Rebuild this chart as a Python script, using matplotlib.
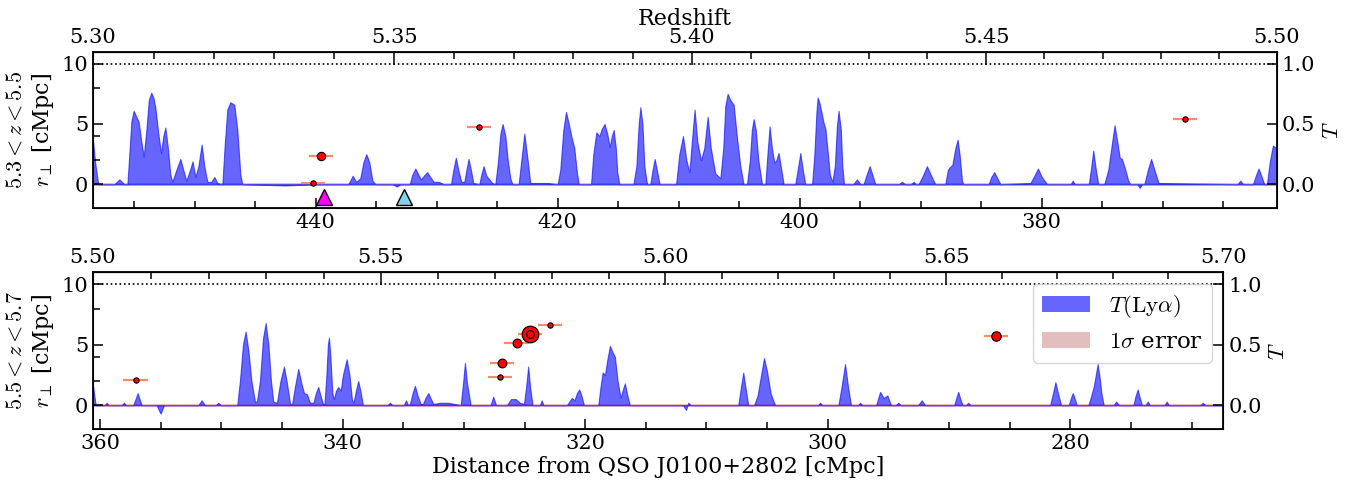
import numpy as np
import matplotlib
matplotlib.use('Agg')
import matplotlib.pyplot as plt
from matplotlib.ticker import MultipleLocator, FixedLocator, FormatStrFormatter
from matplotlib.patches import Patch

plt.rcParams['font.family'] = 'serif'
plt.rcParams['font.serif'] = ['DejaVu Serif']
plt.rcParams['mathtext.fontset'] = 'cm'
plt.rcParams['font.size'] = 15

# redshift <-> distance calibration
z_anchor = [5.3, 5.5, 5.7]
d_anchor = [458.4, 360.57, 267.4]

# transmission spectrum, (distance [cMpc], T)
spec_top = [
    (458.8, 0.42), (458.39, 0.35), (458.22, 0.18), (457.97, 0.0), (456.64, 0.0), (456.22, 0.04),
    (455.81, 0.0), (455.56, 0.0), (455.40, 0.25), (455.23, 0.52), (455.04, 0.61), (454.82, 0.56),
    (454.63, 0.52), (454.40, 0.35), (454.21, 0.23), (453.99, 0.45), (453.79, 0.70), (453.58, 0.76),
    (453.41, 0.72), (453.25, 0.64), (453.00, 0.42), (452.78, 0.26), (452.59, 0.40), (452.42, 0.47),
    (452.21, 0.30), (452.01, 0.08), (451.84, 0.02), (451.51, 0.12), (451.18, 0.21), (450.94, 0.12),
    (450.69, 0.03), (450.44, 0.10), (450.17, 0.19), (449.94, 0.06), (449.69, 0.15), (449.42, 0.33),
    (449.20, 0.15), (448.95, 0.02), (448.62, 0.02), (448.37, 0.06), (448.12, 0.01), (447.71, 0.0),
    (447.50, 0.35), (447.30, 0.62), (447.05, 0.68), (446.72, 0.66), (446.47, 0.45), (446.22, 0.08),
    (446.06, 0.0), (442.5, -0.01), (440.0, 0.0), (437.30, 0.0), (436.94, 0.07), (436.64, 0.02),
    (436.31, 0.05), (436.06, 0.18), (435.81, 0.25), (435.56, 0.18), (435.31, 0.03), (435.07, 0.0),
    (433.6, 0.0), (433.3, -0.02), (433.0, 0.0), (432.23, 0.0), (432.01, 0.08), (431.76, 0.13),
    (431.51, 0.08), (431.29, 0.04), (431.06, 0.07), (430.79, 0.10), (430.52, 0.06), (430.25, 0.02),
    (429.83, 0.02), (429.42, 0.0), (428.81, 0.0), (428.62, 0.12), (428.41, 0.22), (428.21, 0.12),
    (427.96, 0.02), (427.71, 0.02), (427.54, 0.12), (427.36, 0.21), (427.13, 0.10), (426.97, 0.01),
    (426.47, 0.0), (426.31, 0.08), (426.12, 0.15), (425.89, 0.07), (425.64, 0.04), (425.40, 0.01),
    (425.15, 0.0), (424.94, 0.18), (424.73, 0.42), (424.55, 0.50), (424.32, 0.40), (424.12, 0.20),
    (423.91, 0.05), (423.74, 0.0), (423.22, 0.0), (423.00, 0.20), (422.75, 0.42), (422.50, 0.22),
    (422.26, 0.01), (421.5, 0.01), (420.8, 0.01), (420.0, 0.0), (419.78, 0.12), (419.53, 0.45),
    (419.31, 0.60), (419.12, 0.52), (418.87, 0.40), (418.62, 0.30), (418.41, 0.10), (418.25, 0.0),
    (417.24, 0.0), (417.05, 0.25), (416.80, 0.43), (416.55, 0.40), (416.35, 0.46), (416.12, 0.50),
    (415.90, 0.42), (415.70, 0.31), (415.52, 0.40), (415.37, 0.45), (415.19, 0.30), (415.07, 0.10),
    (414.90, 0.0), (413.74, 0.0), (413.49, 0.15), (413.30, 0.50), (413.16, 0.64), (412.99, 0.50),
    (412.83, 0.15), (412.61, 0.0), (412.34, 0.0), (412.15, 0.12), (411.98, 0.21), (411.80, 0.12),
    (411.57, 0.0), (410.21, 0.0), (409.94, 0.25), (409.64, 0.40), (409.36, 0.20), (409.11, 0.10),
    (408.91, 0.35), (408.68, 0.62), (408.45, 0.35), (408.15, 0.20), (407.88, 0.30), (407.60, 0.56),
    (407.34, 0.30), (406.97, 0.09), (406.55, 0.05), (406.31, 0.30), (406.14, 0.65), (405.95, 0.75),
    (405.73, 0.70), (405.45, 0.66), (405.19, 0.40), (404.90, 0.15), (404.63, 0.0), (404.35, 0.0),
    (404.11, 0.20), (403.95, 0.45), (403.80, 0.54), (403.62, 0.45), (403.41, 0.20), (403.11, 0.0),
    (402.83, 0.0), (402.66, 0.25), (402.48, 0.48), (402.29, 0.30), (402.09, 0.18), (401.92, 0.20),
    (401.74, 0.26), (401.51, 0.12), (401.32, 0.0), (400.36, 0.0), (400.16, 0.12), (399.94, 0.26),
    (399.74, 0.12), (399.53, 0.0), (398.97, 0.0), (398.78, 0.25), (398.61, 0.60), (398.51, 0.72),
    (398.37, 0.68), (398.20, 0.60), (398.04, 0.52), (397.87, 0.46), (397.71, 0.30), (397.50, 0.08),
    (397.29, 0.02), (397.09, 0.15), (396.92, 0.48), (396.78, 0.61), (396.59, 0.45), (396.47, 0.15),
    (396.33, 0.0), (395.56, 0.0), (395.26, 0.04), (394.98, 0.0), (394.71, 0.0), (394.46, 0.08),
    (394.21, 0.15), (393.99, 0.08), (393.74, 0.0), (391.8, 0.0), (391.54, 0.02), (391.3, 0.0),
    (390.8, 0.0), (390.58, 0.02), (390.4, 0.0), (390.17, 0.0), (389.82, 0.07), (389.48, 0.15),
    (389.12, 0.07), (388.79, 0.0), (387.96, 0.0), (387.75, 0.12), (387.60, 0.14), (387.38, 0.16),
    (387.13, 0.30), (386.94, 0.37), (386.78, 0.25), (386.58, 0.03), (386.47, 0.0), (384.38, 0.0),
    (384.16, 0.06), (383.91, 0.10), (383.66, 0.05), (383.41, 0.0), (380.93, 0.01), (380.60, 0.07),
    (380.30, 0.13), (379.98, 0.06), (379.55, 0.0), (377.6, 0.0), (377.43, 0.03), (377.25, 0.0),
    (376.10, 0.0), (375.89, 0.15), (375.73, 0.28), (375.56, 0.15), (375.32, 0.0), (374.82, 0.0),
    (374.49, 0.12), (374.24, 0.30), (373.97, 0.49), (373.74, 0.35), (373.54, 0.22), (373.36, 0.21),
    (373.08, 0.12), (372.84, 0.03), (372.67, 0.0), (372.1, 0.0), (371.89, -0.03), (371.7, 0.0),
    (371.51, 0.0), (371.22, 0.12), (370.95, 0.21), (370.68, 0.12), (370.33, 0.01), (363.8, 0.0),
    (363.58, 0.03), (363.35, 0.0), (362.53, 0.0), (362.30, 0.07), (362.07, 0.13), (361.84, 0.07),
    (361.60, 0.0), (361.38, 0.0), (361.15, 0.18), (360.89, 0.32), (360.55, 0.30), (360.2, 0.25),
]

spec_bot = [
    (360.8, 0.20), (360.55, 0.15), (360.35, 0.0), (359.6, 0.0), (359.45, 0.02), (359.3, 0.0),
    (358.2, 0.0), (358.02, 0.02), (357.85, 0.0), (357.25, 0.0), (357.07, 0.05), (356.89, 0.10),
    (356.73, 0.05), (356.56, 0.0), (355.33, 0.0), (355.0, -0.07), (354.72, 0.0), (351.88, 0.0),
    (351.62, 0.04), (351.34, 0.0), (350.45, 0.0), (350.25, 0.02), (350.05, 0.0), (348.68, 0.0),
    (348.46, 0.20), (348.21, 0.50), (347.99, 0.61), (347.76, 0.45), (347.51, 0.20), (347.22, 0.03),
    (347.06, 0.03), (346.81, 0.20), (346.56, 0.55), (346.34, 0.68), (346.11, 0.50), (345.90, 0.20),
    (345.71, 0.03), (345.41, 0.02), (345.12, 0.20), (344.83, 0.32), (344.58, 0.18), (344.34, 0.02),
    (344.17, 0.0), (343.93, 0.15), (343.65, 0.30), (343.39, 0.18), (343.18, 0.10), (342.93, 0.09),
    (342.69, 0.02), (342.40, 0.02), (342.20, 0.10), (342.0, 0.15), (341.82, 0.08), (341.61, 0.01),
    (341.49, 0.01), (341.33, 0.25), (341.21, 0.50), (341.12, 0.56), (341.0, 0.40), (340.84, 0.10),
    (340.71, 0.05), (340.54, 0.12), (340.35, 0.15), (340.15, 0.12), (339.97, 0.25), (339.66, 0.38),
    (339.43, 0.25), (339.23, 0.05), (339.09, 0.02), (338.90, 0.12), (338.71, 0.20), (338.53, 0.12),
    (338.32, 0.0), (336.3, 0.0), (336.09, 0.02), (335.9, 0.0), (334.95, 0.0), (334.77, 0.04),
    (334.6, 0.0), (334.44, 0.01), (334.23, 0.10), (334.03, 0.16), (333.82, 0.08), (333.56, 0.01),
    (333.37, 0.01), (333.17, 0.06), (332.93, 0.10), (332.71, 0.05), (332.51, 0.01), (331.97, 0.02),
    (331.29, 0.02), (330.26, 0.0), (330.07, 0.18), (329.91, 0.35), (329.74, 0.18), (329.44, 0.0),
    (327.80, 0.0), (327.58, 0.07), (327.35, 0.0), (326.45, 0.0), (326.12, 0.05), (325.71, 0.05),
    (325.38, 0.02), (325.05, 0.01), (324.87, 0.15), (324.70, 0.32), (324.54, 0.15), (324.34, 0.0),
    (323.73, 0.0), (323.59, 0.04), (323.44, 0.0), (321.50, 0.0), (321.11, 0.06), (320.88, 0.04),
    (320.68, 0.10), (320.49, 0.13), (320.31, 0.08), (320.10, 0.0), (318.92, 0.0), (318.74, 0.15),
    (318.56, 0.27), (318.37, 0.25), (318.17, 0.38), (317.96, 0.49), (317.75, 0.44), (317.55, 0.40),
    (317.33, 0.20), (317.08, 0.06), (316.89, 0.13), (316.73, 0.18), (316.52, 0.08), (316.32, 0.0),
    (311.93, 0.0), (311.69, -0.04), (311.5, 0.02), (311.3, 0.0), (307.38, 0.0), (307.16, 0.15),
    (306.97, 0.27), (306.79, 0.15), (306.56, 0.0), (306.08, 0.0), (305.79, 0.08), (305.50, 0.25),
    (305.26, 0.39), (305.01, 0.28), (304.72, 0.10), (304.35, 0.0), (300.8, 0.0), (300.64, 0.02),
    (300.45, 0.0), (299.13, 0.0), (298.87, 0.15), (298.58, 0.34), (298.33, 0.15), (298.09, 0.0),
    (297.5, 0.0), (297.34, 0.02), (297.15, 0.0), (296.02, 0.0), (295.69, 0.11), (295.40, 0.06),
    (295.09, 0.08), (294.79, 0.0), (294.4, 0.0), (294.19, 0.02), (294.0, 0.0), (292.56, 0.0),
    (292.26, 0.04), (291.98, 0.0), (289.58, 0.0), (289.41, 0.06), (289.25, 0.11), (289.07, 0.05),
    (288.89, 0.0), (288.6, 0.0), (288.43, 0.02), (288.25, 0.0), (281.67, 0.0), (281.44, 0.10),
    (281.24, 0.19), (281.03, 0.10), (280.77, 0.0), (280.14, 0.0), (279.96, 0.06), (279.81, 0.10),
    (279.63, 0.05), (279.48, 0.0), (278.52, 0.0), (278.28, 0.08), (278.09, 0.15), (277.91, 0.25),
    (277.76, 0.34), (277.62, 0.25), (277.45, 0.10), (277.26, 0.0), (276.45, 0.0), (276.23, 0.03),
    (276.0, 0.0), (274.81, 0.0), (274.65, 0.07), (274.46, 0.13), (274.28, 0.06), (274.10, 0.0),
    (273.8, 0.0), (273.63, 0.03), (273.45, 0.0), (272.25, 0.0), (272.07, 0.03), (271.9, 0.0),
    (269.3, 0.0), (269.10, 0.02), (268.9, 0.0), (267.0, 0.0),
]

# 1 sigma error level (tiny)
err_sigma = 0.012

# galaxies: distance, r_perp, marker size
gal_top_d = [439.53, 440.25, 426.53, 368.12]
gal_top_r = [2.34, 0.08, 4.74, 5.42]
gal_top_ms = [6.0, 3.8, 3.8, 3.8]
gal_bot_d = [357.06, 324.55, 322.90, 325.65, 326.88, 327.02, 286.16]
gal_bot_r = [2.07, 5.93, 6.61, 5.18, 3.45, 2.34, 5.73]
gal_bot_ms = [3.8, 12.0, 3.8, 6.3, 6.3, 3.8, 6.8]
gal_xerr = 1.0
inner_d, inner_r, inner_ms = 324.55, 5.93, 5.5

# triangles in upper panel
tri_d = [439.34, 432.73]
tri_r = [-1.1, -1.1]
tri_col = ['magenta', 'skyblue']

coef = np.polyfit(z_anchor, d_anchor, 2)
z_grid = np.linspace(5.0, 6.0, 2001)
d_grid = np.polyval(coef, z_grid)


def z_to_d(z):
    return np.polyval(coef, z)


def d_to_z(d):
    return np.interp(d, d_grid[::-1], z_grid[::-1])


fig = plt.figure(figsize=(13.63, 4.87), dpi=100)
ax1 = fig.add_axes([0.06823, 0.57228, 0.86844, 0.32156])
ax2 = fig.add_axes([0.06823, 0.11848, 0.82927, 0.32238])

panels = [
    (ax1, spec_top, (458.4, 360.57), (5.3, 5.5), gal_top_d, gal_top_r, gal_top_ms, '$5.3 < z < 5.5$'),
    (ax2, spec_bot, (360.57, 267.4), (5.5, 5.7), gal_bot_d, gal_bot_r, gal_bot_ms, '$5.5 < z < 5.7$'),
]

for ax, spec, xl, zl, gd, gr, gms, zlab in panels:
    d, T = np.array(spec).T
    tw = ax.twinx()
    tw.fill_between(d, -err_sigma, err_sigma, color='brown', alpha=0.3, lw=0)
    tw.fill_between(d, 0, T, color='blue', alpha=0.6, lw=0.8)
    tw.set_ylim(-0.2, 1.1)
    tw.set_yticks([0.0, 0.5, 1.0])
    tw.yaxis.set_major_formatter(FormatStrFormatter('%.1f'))
    tw.tick_params(axis='y', direction='in', length=7, width=1.1, labelsize=15)
    tw.set_ylabel('$T$', fontsize=16)

    ax.set_zorder(tw.get_zorder() + 1)
    ax.patch.set_visible(False)
    ax.axhline(10, color='k', ls=':', lw=1.2)
    for i in range(len(gd)):
        ax.errorbar(gd[i], gr[i], xerr=gal_xerr, fmt='o', color='red', mec='k', mew=0.8,
                    ms=gms[i], ecolor='#f98a6a', elinewidth=1.6, capsize=0, zorder=3)
    ax.set_xlim(*xl)
    ax.set_ylim(-2, 11)
    ax.set_yticks([0, 5, 10])
    ax.yaxis.set_minor_locator(FixedLocator([2, 4, 8]))
    ax.xaxis.set_major_locator(MultipleLocator(20))
    ax.xaxis.set_minor_locator(MultipleLocator(5))
    ax.tick_params(which='both', direction='in', top=False, right=False, labelsize=15, width=1.1)
    ax.tick_params(which='major', length=7)
    ax.tick_params(which='minor', length=5)
    ax.set_ylabel(zlab + '\n$r_\\perp$ [cMpc]', fontsize=16)
    for sp in ax.spines.values():
        sp.set_linewidth(1.3)

    sec = ax.secondary_xaxis('top', functions=(d_to_z, z_to_d))
    sec.set_xticks(np.arange(zl[0], zl[1] + 0.001, 0.05))
    sec.xaxis.set_minor_locator(FixedLocator(np.arange(zl[0], zl[1] + 0.001, 0.01)))
    sec.xaxis.set_major_formatter(FormatStrFormatter('%.2f'))
    sec.tick_params(which='both', direction='in', labelsize=15, width=1.1)
    sec.tick_params(which='major', length=9)
    sec.tick_params(which='minor', length=5)
    if ax is ax1:
        sec.set_xlabel('Redshift', fontsize=16, labelpad=2)

ax2.plot(inner_d, inner_r, 'o', color='red', mec='k', mew=0.8, ms=inner_ms, zorder=4)

for i in range(len(tri_d)):
    ax1.plot(tri_d[i], tri_r[i], '^', color=tri_col[i], mec='k', mew=1.0, ms=11, zorder=4)

ax2.set_xlabel('Distance from QSO J0100+2802 [cMpc]', fontsize=16, labelpad=2)

handles = [Patch(facecolor='blue', alpha=0.6, edgecolor='none', label='$T(\\mathrm{Ly}\\alpha)$'),
           Patch(facecolor='brown', alpha=0.3, edgecolor='none', label='$1\\sigma$ error')]
ax2.legend(handles=handles, loc='upper right', fontsize=16.5, handlelength=2.1, framealpha=0.8)

fig.savefig('out.png', dpi=100)
